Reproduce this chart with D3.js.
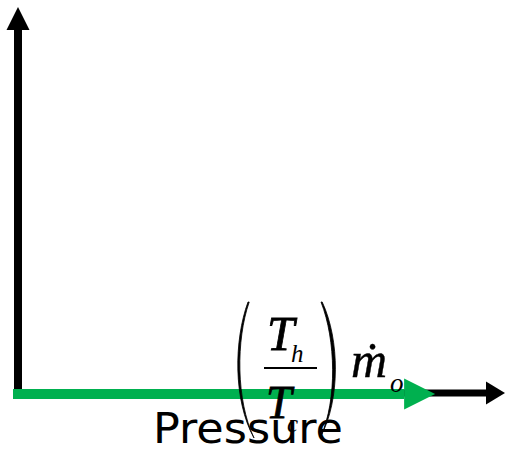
<!DOCTYPE html>
<html>
<head>
<meta charset="utf-8">
<script src="https://cdn.jsdelivr.net/npm/d3@7"></script>
<style>
  body { margin: 0; background: #fff; }
</style>
</head>
<body>
<script>
var w = 506;
var h = 450;

// schematic: no ticks, just two axes and one green arrow along pressure
var xDomain = [0, 1];
var yDomain = [0, 1];
var xLabel = "Pressure";
var greenPress = [0, 0.825];   // start / end of green arrow shaft, along pressure axis
var greenLevel = [0, 0];

var svg = d3.select("body")
    .append("svg")
    .attr("width", w)
    .attr("height", h);

var xScale = d3.scaleLinear().domain(xDomain).range([18, 486]);
var yScale = d3.scaleLinear().domain(yDomain).range([393, 30]);

// y axis
svg.append("line")
    .attr("x1", xScale(0)).attr("x2", xScale(0))
    .attr("y1", yScale(0) + 3).attr("y2", yScale(1))
    .attr("stroke", "#000")
    .attr("stroke-width", 8);
svg.append("path")
    .attr("d", "M" + (xScale(0) - 11.5) + "," + yScale(1) +
               "L" + xScale(0) + "," + (yScale(1) - 23) +
               "L" + (xScale(0) + 11.5) + "," + yScale(1) + "Z")
    .attr("fill", "#000");

// x axis
svg.append("line")
    .attr("x1", xScale(0)).attr("x2", xScale(1))
    .attr("y1", yScale(0)).attr("y2", yScale(0))
    .attr("stroke", "#000")
    .attr("stroke-width", 7);
svg.append("path")
    .attr("d", "M" + xScale(1) + "," + (yScale(0) - 11.5) +
               "L" + (xScale(1) + 19) + "," + yScale(0) +
               "L" + xScale(1) + "," + (yScale(0) + 11.5) + "Z")
    .attr("fill", "#000");

// green arrow
var green = "#00b04f";
var gy = yScale(greenLevel[0]) + 1;
svg.append("line")
    .attr("x1", xScale(greenPress[0]) - 5).attr("x2", xScale(greenPress[1]))
    .attr("y1", gy).attr("y2", gy)
    .attr("stroke", green)
    .attr("stroke-width", 10);
svg.append("path")
    .attr("d", "M" + xScale(greenPress[1]) + "," + (gy - 15.5) +
               "L" + (xScale(greenPress[1]) + 31) + "," + gy +
               "L" + xScale(greenPress[1]) + "," + (gy + 15.5) + "Z")
    .attr("fill", green);

// x label
svg.append("text")
    .attr("x", 153)
    .attr("y", 443)
    .attr("font-family", "'DejaVu Sans', sans-serif")
    .attr("font-size", 42)
    .attr("textLength", 190)
    .attr("lengthAdjust", "spacingAndGlyphs")
    .text(xLabel);

// formula (Th/Tc) m-dot o
var f = svg.append("g")
    .attr("font-family", "'Liberation Serif', 'Times New Roman', serif")
    .attr("font-style", "italic")
    .attr("fill", "#000");

// tall parentheses, slightly thicker in the middle
f.append("path")
    .attr("d", "M248,302 C234,340 233,400 254,438 C236,400 236,340 249.2,302 Z")
    .attr("fill", "#000").attr("stroke", "#000").attr("stroke-width", 0.8);
f.append("path")
    .attr("d", "M321,302 C336,340 337,400 321,436 C340,400 340,340 322.2,302 Z")
    .attr("fill", "#000").attr("stroke", "#000").attr("stroke-width", 0.8);

f.append("text").attr("x", 267).attr("y", 350).attr("font-size", 49)
    .attr("stroke", "#000").attr("stroke-width", 0.8).text("T");
f.append("text").attr("x", 291).attr("y", 362).attr("font-size", 25).text("h");
f.append("line")
    .attr("x1", 264).attr("x2", 317).attr("y1", 368).attr("y2", 368)
    .attr("stroke", "#000").attr("stroke-width", 2);
f.append("text").attr("x", 266).attr("y", 418).attr("font-size", 46)
    .attr("stroke", "#000").attr("stroke-width", 0.8).text("T");
f.append("text").attr("x", 287).attr("y", 432).attr("font-size", 25).text("c");

f.append("text").attr("x", 351).attr("y", 377).attr("font-size", 50)
    .attr("stroke", "#000").attr("stroke-width", 0.4).text("ṁ");
f.append("text").attr("x", 390).attr("y", 392).attr("font-size", 27).text("o");
</script>
</body>
</html>
